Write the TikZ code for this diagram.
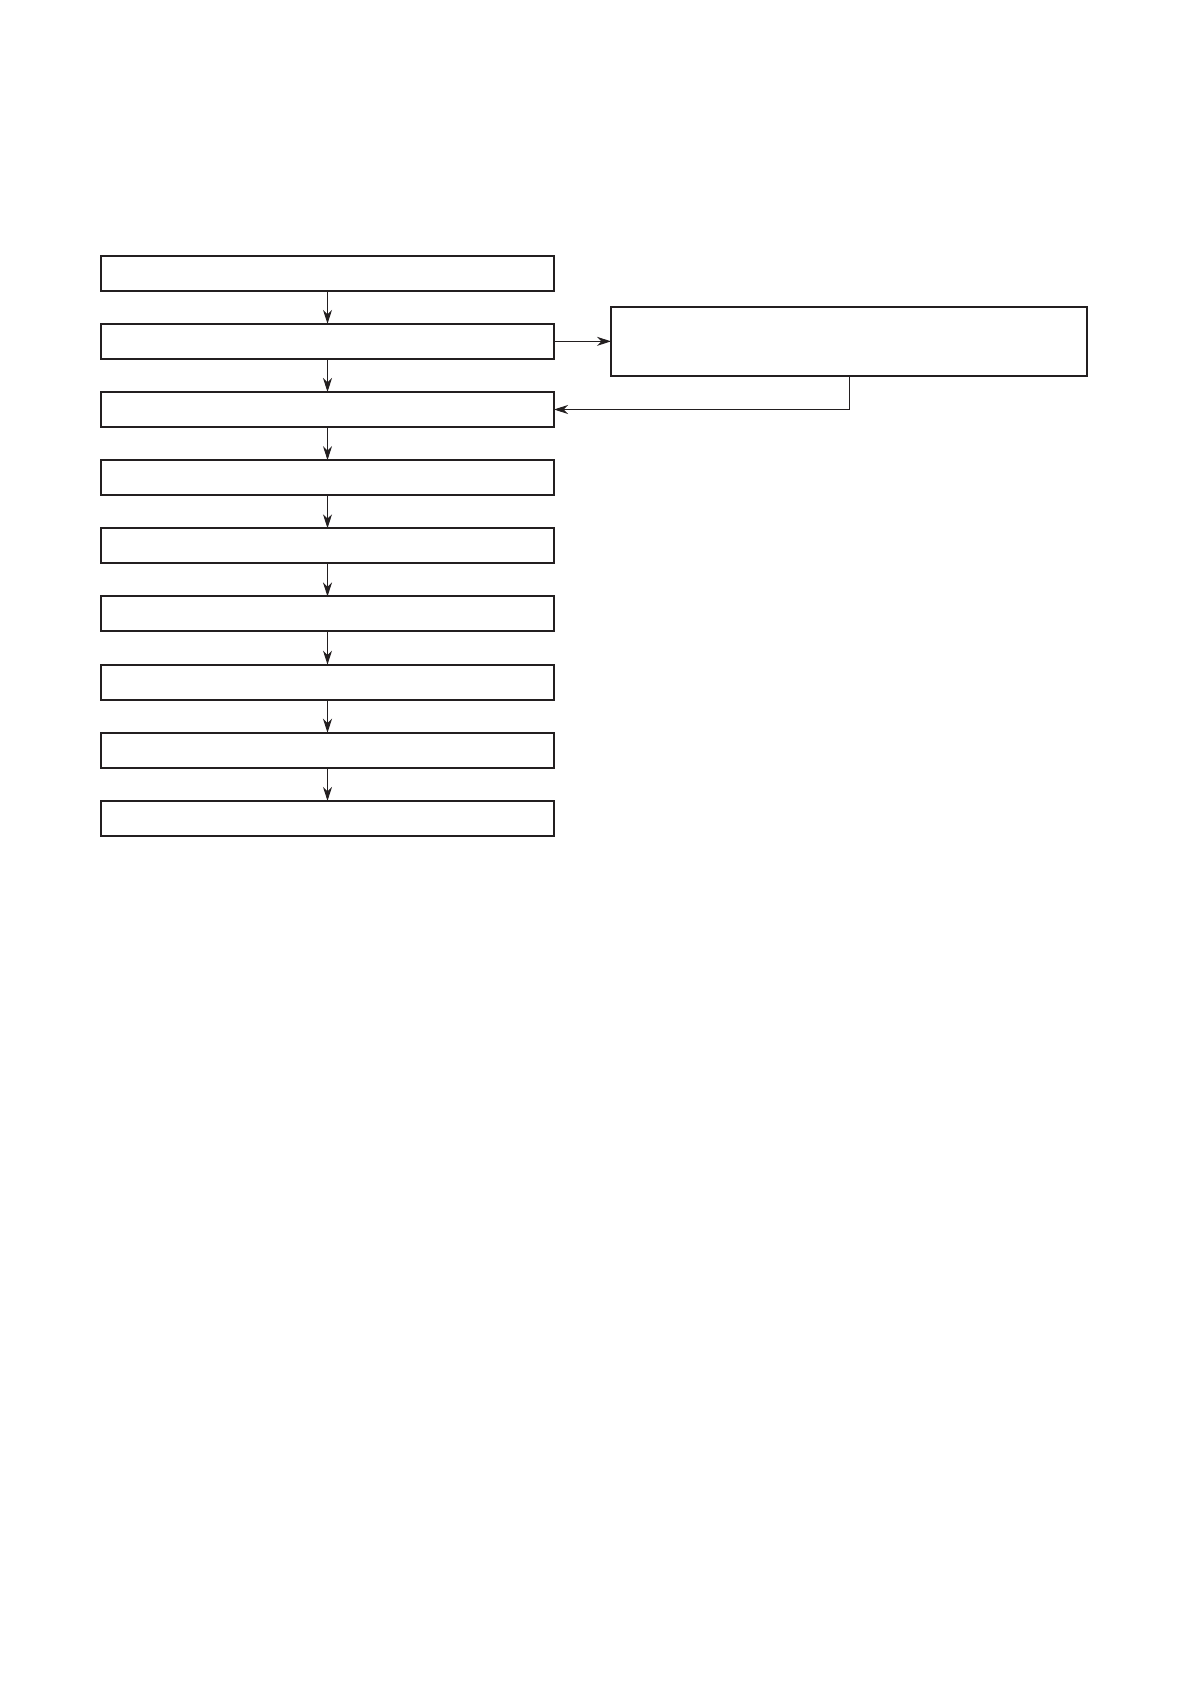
\documentclass[tikz,border=0pt]{standalone}
\usetikzlibrary{arrows.meta}
\definecolor{ink}{HTML}{231F20}
\begin{document}
\begin{tikzpicture}[x=0.5pt,y=-0.5pt,
  stepbox/.style={draw=ink,line width=1pt,minimum width=226.5pt,minimum height=17.5pt,inner sep=0pt,outer sep=0pt},
  sidebox/.style={draw=ink,line width=1pt,minimum width=238pt,minimum height=34.5pt,inner sep=0pt,outer sep=0pt},
  conn/.style={draw=ink,line width=0.5pt,-{Stealth[length=7pt,width=4.5pt,inset=2.2pt]}}]
\useasboundingbox (0,0) rectangle (1192,1684);
\foreach \i in {0,...,8}{
  \node[stepbox] (b\i) at (327.5,{273.2+68.15*\i}) {};
}
\node[sidebox] (rb) at (849,341.6) {};
\foreach \i [evaluate=\i as \j using int(\i+1)] in {0,...,7}{
  \draw[conn] (b\i) -- (b\j);
}
\draw[conn] (b1.east) -- (rb.west |- b1.east);
\draw[conn] (rb.south) |- (b2.east);
\end{tikzpicture}
\end{document}
